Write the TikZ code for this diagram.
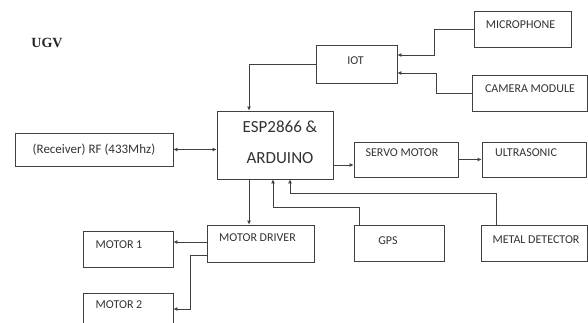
\documentclass[tikz,border=0pt]{standalone}
\usepackage{fontspec}
\setmainfont{Carlito}
\newfontfamily\ugvfont{Liberation Serif}
\usetikzlibrary{arrows.meta,calc}
\begin{document}
\begin{tikzpicture}[x=1pt,y=-1pt,
  box/.style={draw=black!75,line width=0.8pt,rectangle,inner sep=0pt},
  lbl/.style={inner sep=0pt,text=black!80,font=\fontsize{12}{14}\selectfont},
  conn/.style={draw=black!75,line width=0.8pt},
  tip/.style={-{Latex[length=4pt,width=4pt]}},
  >={Latex[length=4pt,width=4pt]}]
\useasboundingbox (0,0) rectangle (588,322);
\clip (0,0) rectangle (588,322);
\fill[white] (0,0) rectangle (588,322);

% boxes
\node[box,minimum width=158pt,minimum height=33pt] (rf) at (94,149.5) {};
\node[box,minimum width=116pt,minimum height=68pt] (esp) at (275,145) {};
\node[box,minimum width=81pt,minimum height=38pt] (iot) at (356.5,64) {};
\node[box,minimum width=97pt,minimum height=36pt] (mic) at (522.5,29) {};
\node[box,minimum width=115pt,minimum height=36pt] (cam) at (529.5,93) {};
\node[box,minimum width=104pt,minimum height=35pt] (servo) at (406,159.5) {};
\node[box,minimum width=104pt,minimum height=35pt] (ultra) at (534,159.5) {};
\node[box,minimum width=107pt,minimum height=37pt] (md) at (260.5,243.5) {};
\node[box,minimum width=90pt,minimum height=36pt] (gps) at (399,243) {};
\node[box,minimum width=106pt,minimum height=36pt] (metal) at (534,243) {};
\node[box,minimum width=90pt,minimum height=36pt] (m1) at (128,249) {};
\node[box,minimum width=90pt,minimum height=36pt] (m2) at (128,311) {};

% texts
\node[inner sep=0pt,text=black!85,font=\ugvfont\bfseries\fontsize{14}{16}\selectfont] (ugv) at (47,43) {UGV};
\node[lbl,font=\fontsize{13}{15}\selectfont] (trf) at (94,150) {(Receiver) RF (433Mhz)};
\node[lbl,font=\fontsize{17}{19}\selectfont] (tesp1) at (280,127) {ESP2866 \&};
\node[lbl,font=\fontsize{17}{19}\selectfont] (tesp2) at (280,158) {ARDUINO};
\node[lbl] (tiot) at (355.5,61) {IOT};
\node[lbl] (tmic) at (520.5,25) {MICROPHONE};
\node[lbl] (tcam) at (530,89) {CAMERA MODULE};
\node[lbl] (tservo) at (402,153) {SERVO MOTOR};
\node[lbl] (tultra) at (526,153) {ULTRASONIC};
\node[lbl] (tmd) at (257.5,238) {MOTOR DRIVER};
\node[lbl] (tgps) at (388,241) {GPS};
\node[lbl] (tmetal) at (536,240) {METAL DETECTOR};
\node[lbl] (tm1) at (119,245) {MOTOR 1};
\node[lbl] (tm2) at (119,305) {MOTOR 2};

% connectors
\draw[conn,<->] (rf.east) -- (rf.east -| esp.west);
\draw[conn,->] (iot.west) -| (esp.north -| 249,0);
\draw[conn,->] (mic.west) -- (434,29) |- ($(iot.east)+(0,-9)$);
\draw[conn,->] (cam.west) -- (436,93) |- ($(iot.east)+(0,9)$);
\draw[conn,->] (esp.east |- 0,165) -- (servo.west |- 0,165);
\draw[conn,->] (servo.east) -- (ultra.west);
\draw[conn,->] (esp.south -| 249,0) -- (md.north -| 249,0);
\draw[conn,->] (gps.north -| 359,0) |- (273,207) -- (esp.south -| 273,0);
\draw[conn,->] (metal.north -| 496,0) |- (290,193) -- (esp.south -| 290,0);
\draw[conn,->] (md.west |- 0,242) -- (m1.east |- 0,242);
\draw[conn,->] (md.west |- 0,255) -- (190,255) |- (m2.east |- 0,309);
\end{tikzpicture}
\end{document}
